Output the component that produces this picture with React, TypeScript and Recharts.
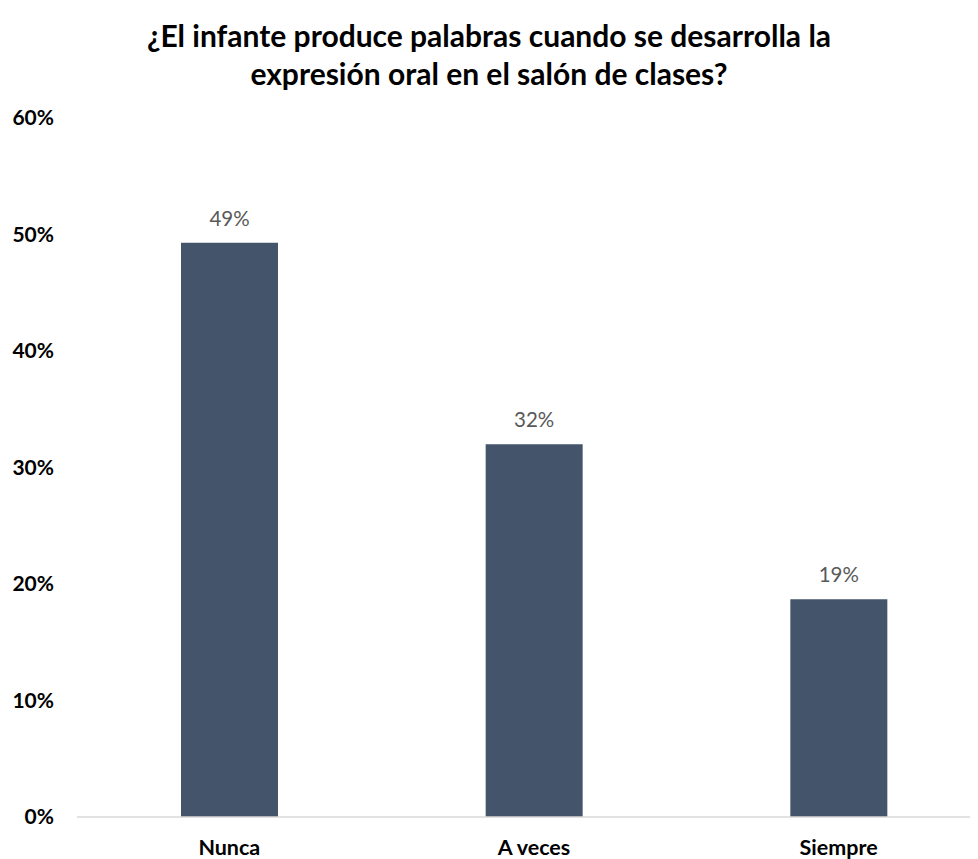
import { Bar, BarChart, LabelList, XAxis, YAxis } from "recharts";

const categories = ["Nunca", "A veces", "Siempre"];
const shares = [49.3, 32.0, 18.7];
const labels = ["49%", "32%", "19%"];
const yTicks = [0, 10, 20, 30, 40, 50, 60];

const data = categories.map((name, i) => ({ name, value: shares[i], label: labels[i] }));

const FONT = "Lato, 'Open Sans', sans-serif";
const BAR = "#44546A";

export default function App() {
  return (
    <div
      style={{
        position: "relative",
        width: 978,
        height: 859,
        margin: "-8px 0 0 -8px",
        overflow: "hidden",
        background: "#fff",
        fontFamily: FONT,
      }}
    >
      <div
        style={{
          position: "absolute",
          top: 16,
          left: 0,
          width: 978,
          textAlign: "center",
          fontWeight: 700,
          fontSize: 30,
          lineHeight: "38px",
          color: "#000",
        }}
      >
        ¿El infante produce palabras cuando se desarrolla la
        <br />
        expresión oral en el salón de clases?
      </div>
      <BarChart
        width={1000}
        height={859}
        data={data}
        margin={{ top: 118, right: 9, left: 0, bottom: 0 }}
        barSize={97}
      >
        <XAxis
          dataKey="name"
          height={42}
          axisLine={{ stroke: "#d9d9d9", strokeWidth: 1.5 }}
          tickLine={false}
          tickSize={0}
          tickMargin={23}
          tick={{ fill: "#000", fontSize: 21.5, fontWeight: 700, fontFamily: FONT }}
        />
        <YAxis
          width={77}
          domain={[0, 60]}
          ticks={yTicks}
          axisLine={false}
          tickLine={false}
          tickSize={0}
          tickMargin={23}
          tickFormatter={(v: number) => `${v}%`}
          tick={{ fill: "#000", fontSize: 21, fontWeight: 700, fontFamily: FONT }}
        />
        <Bar dataKey="value" fill={BAR} isAnimationActive={false}>
          <LabelList
            dataKey="label"
            position="top"
            offset={17}
            style={{ fill: "#595959", fontSize: 20.5, fontFamily: FONT }}
          />
        </Bar>
      </BarChart>
    </div>
  );
}
